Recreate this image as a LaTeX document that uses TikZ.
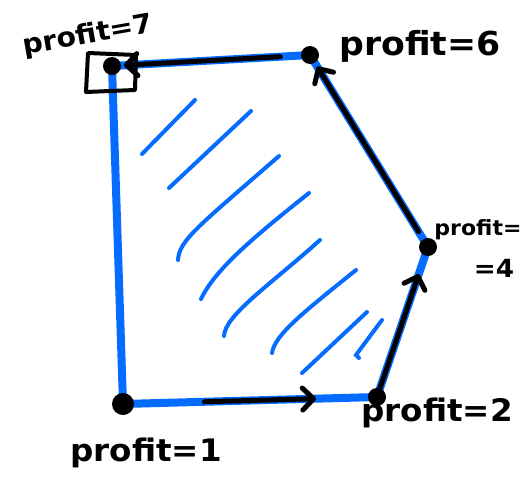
\documentclass[tikz,border=0pt]{standalone}
\usepackage{fontspec}
\newfontfamily\handfont{DejaVu Sans}[FakeStretch=1.05]
\usetikzlibrary{arrows.meta,calc}
\definecolor{penblue}{RGB}{5,108,255}
\tikzset{
  dot/.style={circle,fill=black,inner sep=0pt,minimum size=#1},
  edge/.style={draw=penblue,line width=8pt,line join=round,line cap=round},
  hatch/.style={draw=penblue,line width=4pt,line cap=round},
  arr/.style={draw=black,line width=5pt,line cap=round,
    -{Straight Barb[length=11pt,width=22pt,line width=5pt,round]}},
  lab/.style={font=\handfont\bfseries\fontsize{#1}{#1}\selectfont,inner sep=0pt},
  boxmark/.style={draw=black,line width=4pt,line join=round}
}
\begin{document}
\begin{tikzpicture}[x=1pt,y=-1pt]
\useasboundingbox (0,0) rectangle (527,490);
% vertices
\coordinate (A) at (123,404);
\coordinate (B) at (377,397);
\coordinate (C) at (428,247);
\coordinate (D) at (310,55);
\coordinate (E) at (112,66);
% blue polygon
\draw[edge] (E) -- (D) -- (C) -- (B) -- (A) -- cycle;
% hatching
\draw[hatch] (142,154) -- (195,100);
\draw[hatch] (169,188) -- (251,111);
\draw[hatch] (178,260) .. controls (179,240) and (200,225) .. (279,156);
\draw[hatch] (201,299) .. controls (215,270) and (250,240) .. (309,193);
\draw[hatch] (224,336) .. controls (225,315) and (270,285) .. (320,240);
\draw[hatch] (272,353) .. controls (275,335) and (300,315) .. (356,270);
\draw[hatch] (302,373) -- (367,312);
\draw[hatch] (359,358) -- (356,355) -- (382,320);
% dots
\node[dot=22pt] (a) at (A) {};
\node[dot=18pt] (b) at (B) {};
\node[dot=18pt] (c) at (C) {};
\node[dot=18pt] (d) at (D) {};
\node[dot=18pt] (e) at (E) {};
% box around top-left vertex
\draw[boxmark] (88,53) -- (136,55) -- (135,90) -- (86,92) -- cycle;
% arrows
\draw[arr] ($(A)!0.32!(B)$) -- ($(A)!0.76!(B)$);
\draw[arr] ($(B)!0.05!(C)$) -- ($(B)!0.82!(C)$);
\draw[arr] ($(C)!0.08!(D)$) -- ($(C)!0.94!(D)$);
\draw[arr] ($(D)!0.15!(E)$) -- ($(D)!0.94!(E)$);
% labels
\node[lab=27,rotate=10] (l7) at (88,36) {profit=7};
\node[lab=33] (l6) at (420,46) {profit=6};
\node[lab=21] (l4a) at (478,230) {profit=};
\node[lab=25] (l4b) at (494,268) {=4};
\node[lab=31] (l2) at (437,413) {profit=2};
\node[lab=31] (l1) at (146,453) {profit=1};
\end{tikzpicture}
\end{document}
